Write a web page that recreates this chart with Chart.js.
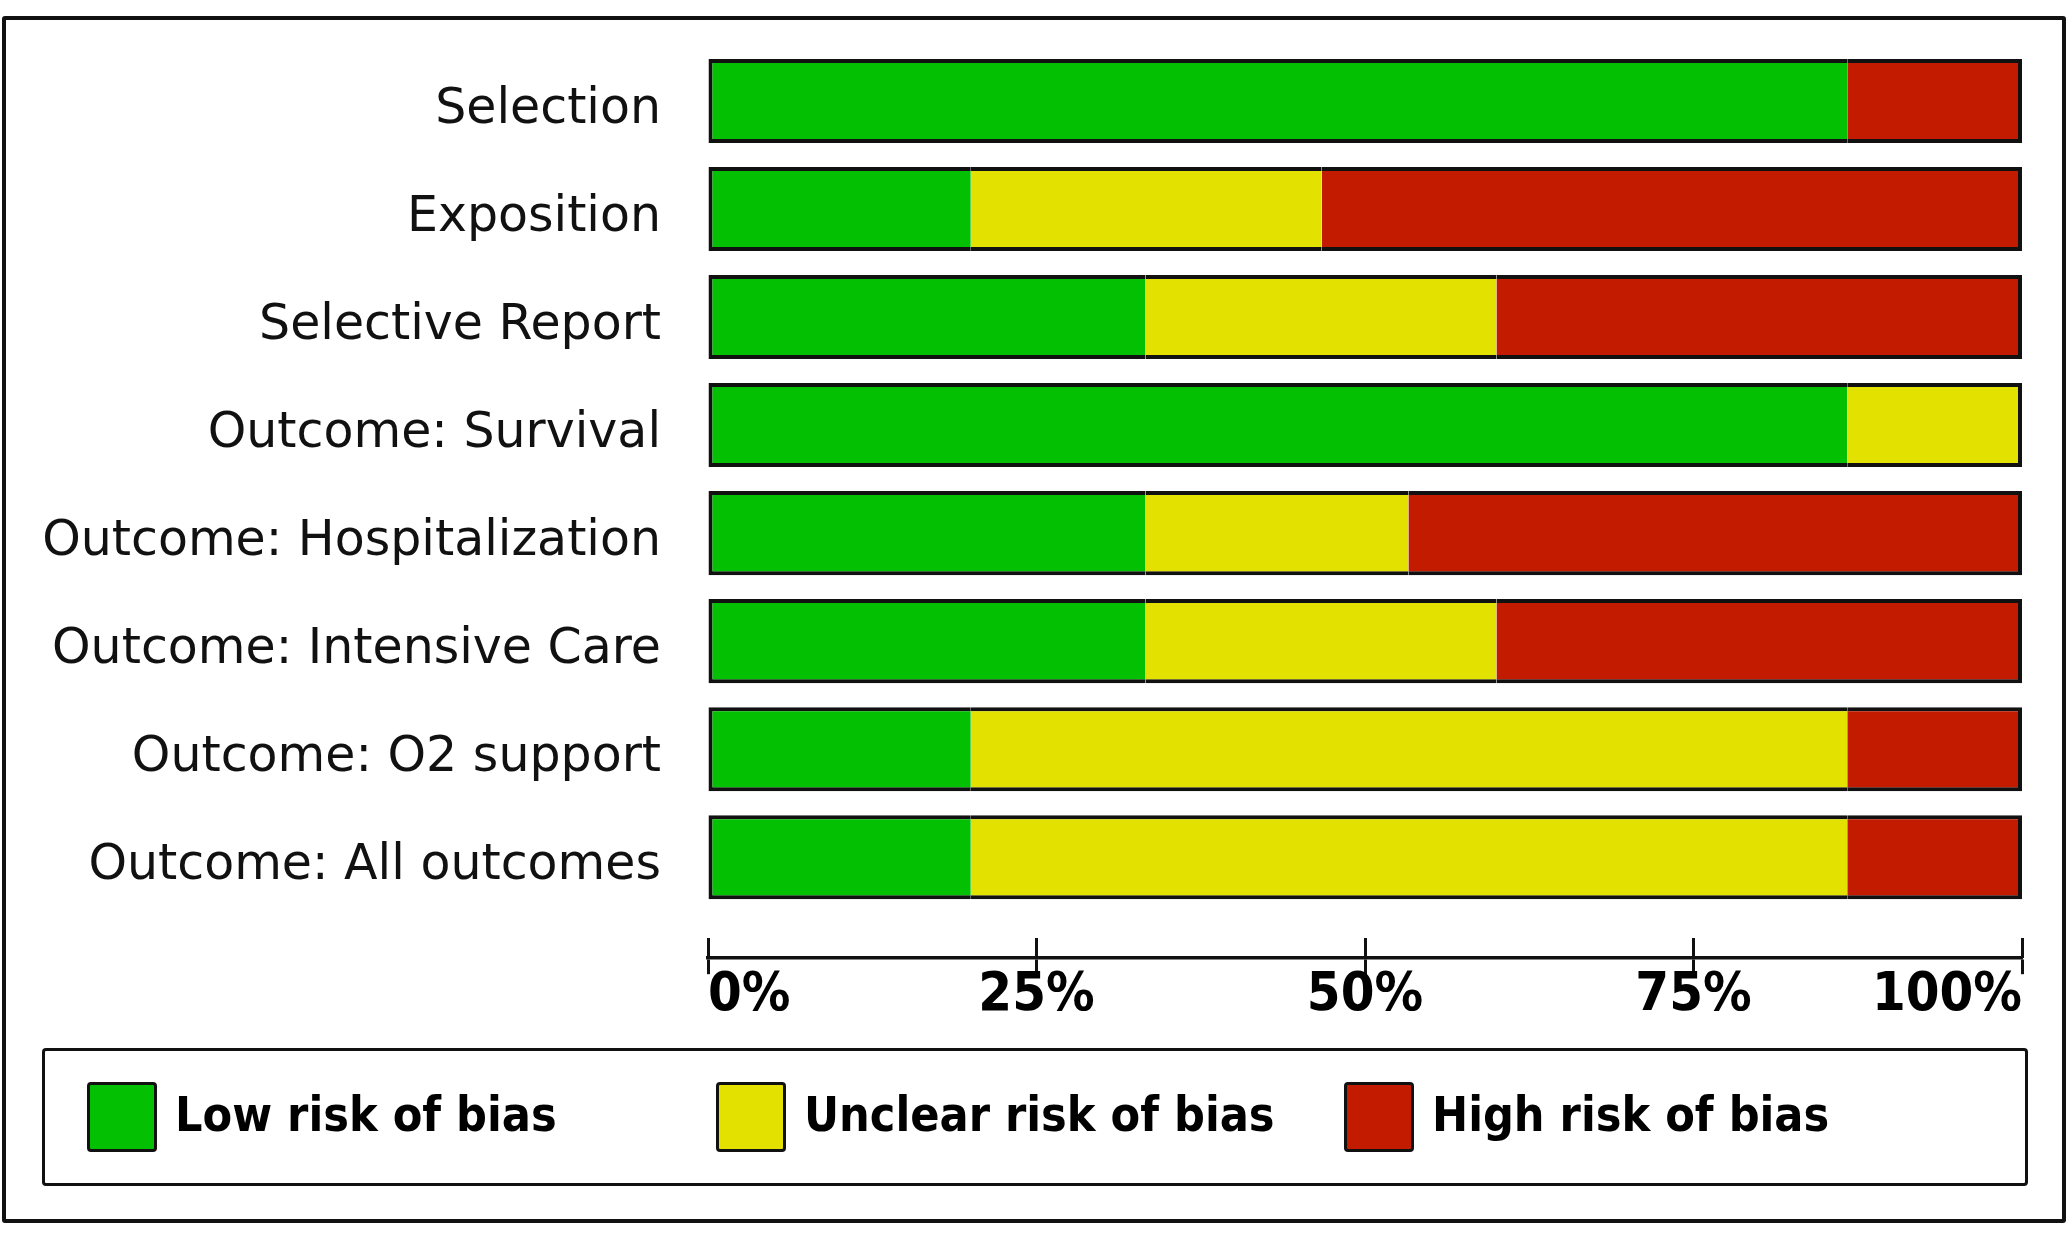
<!DOCTYPE html>
<html>
<head>
<meta charset="utf-8">
<script src="https://cdn.jsdelivr.net/npm/chart.js@4"></script>
<style>
  html, body { margin: 0; padding: 0; background: #fff; }
  #wrap { position: relative; width: 2067px; height: 1250px; overflow: hidden; background: #fff; }
  #c { position: absolute; left: 0; top: 0; }
  #frame { position: absolute; left: 2px; top: 16px; width: 2064px; height: 1207px;
           box-sizing: border-box; border: 4px solid #111; border-radius: 3px; pointer-events: none; }
  #legend { position: absolute; left: 42px; top: 1048px; width: 1986px; height: 138px;
            box-sizing: border-box; border: 3px solid #111; border-radius: 4px; }
  #legend-items { list-style: none; margin: 0; padding: 0 0 0 42px; height: 100%;
                  display: grid; grid-template-columns: 629px 628px 628px; align-items: center; }
  #legend-items li { display: flex; align-items: center; }
  #legend-items .sw { width: 70px; height: 70px; box-sizing: border-box; border: 3px solid #111;
                      border-radius: 4px; margin-right: 18px; flex: none; }
  #legend-items .tx { font-family: "DejaVu Sans Condensed", "DejaVu Sans", sans-serif; font-weight: bold;
                      font-size: 48px; color: #000; white-space: nowrap; line-height: 1; margin-top: -6px; }
</style>
</head>
<body>
<div id="wrap">
  <canvas id="c" width="2067" height="1250"></canvas>
  <div id="legend"><ul id="legend-items"></ul></div>
  <div id="frame"></div>
</div>
<script>
const categories = ['Selection', 'Exposition', 'Selective Report', 'Outcome: Survival',
  'Outcome: Hospitalization', 'Outcome: Intensive Care', 'Outcome: O2 support', 'Outcome: All outcomes'];
const seriesNames = ['Low risk of bias', 'Unclear risk of bias', 'High risk of bias'];
const lowRisk     = [86.7, 20.0, 33.3, 86.7, 33.3, 33.3, 20.0, 20.0];
const unclearRisk = [ 0.0, 26.7, 26.7, 13.3, 20.0, 26.7, 66.7, 66.7];
const highRisk    = [13.3, 53.3, 40.0,  0.0, 46.7, 40.0, 13.3, 13.3];
const tickLabels  = ['0%', '25%', '50%', '75%', '100%'];

const seriesValues = [lowRisk, unclearRisk, highRisk];
const seriesColors = ['#03c003', '#e2e100', '#c21b00'];
const BW = 4;

function segBorder(ctx) {
  if (ctx.dataIndex === undefined) return BW;
  const i = ctx.dataIndex;
  const vals = seriesValues.map(s => s[i]);
  const first = vals.findIndex(v => v > 0);
  const last = vals.length - 1 - [...vals].reverse().findIndex(v => v > 0);
  return { top: BW, bottom: BW, left: ctx.datasetIndex === first ? BW : 0, right: ctx.datasetIndex === last ? BW : 0 };
}

const htmlLegend = {
  id: 'htmlLegend',
  afterUpdate(chart) {
    const ul = document.getElementById('legend-items');
    ul.innerHTML = '';
    const items = chart.options.plugins.legend.labels.generateLabels(chart);
    items.forEach(item => {
      const li = document.createElement('li');
      const sw = document.createElement('span');
      sw.className = 'sw';
      sw.style.background = item.fillStyle;
      const tx = document.createElement('span');
      tx.className = 'tx';
      tx.textContent = item.text;
      li.appendChild(sw); li.appendChild(tx);
      ul.appendChild(li);
    });
  }
};

new Chart(document.getElementById('c'), {
  type: 'bar',
  data: {
    labels: categories,
    datasets: seriesValues.map((vals, k) => ({
      label: seriesNames[k],
      data: vals,
      backgroundColor: seriesColors[k],
      borderColor: '#111',
      borderWidth: segBorder,
      borderSkipped: false,
      xAxisID: 'x',
      barPercentage: 0.778,
      categoryPercentage: 1.0
    }))
  },
  plugins: [htmlLegend],
  options: {
    indexAxis: 'y',
    responsive: false,
    animation: false,
    layout: { padding: { left: 0, right: 45, top: 47, bottom: 233 } },
    plugins: { legend: { display: false }, tooltip: { enabled: false } },
    scales: {
      y: {
        stacked: true,
        grid: { display: false, drawTicks: false },
        border: { display: false },
        ticks: { color: '#111', padding: 47, labelOffset: 9, font: { family: 'DejaVu Sans', size: 49 } },
        afterFit: (scale) => { scale.width = 708; scale.paddingTop = 0; scale.paddingBottom = 0; }
      },
      x: {
        type: 'linear', position: 'bottom', weight: 0, stacked: true, min: 0, max: 100,
        grid: { display: true, drawOnChartArea: false, drawTicks: true, tickLength: 47,
                tickWidth: 3, tickColor: '#111', tickBorderDash: [0, 27, 20, 100] },
        border: { display: false },
        ticks: { display: false, stepSize: 25 }
      },
      x2: {
        type: 'linear', position: 'bottom', weight: 1, min: 0, max: 100,
        grid: { display: true, drawOnChartArea: false, drawTicks: true, tickLength: 16,
                tickWidth: 3, tickColor: '#111' },
        border: { display: true, width: 3.5, color: '#111' },
        ticks: { stepSize: 25, align: 'inner', padding: -11, color: '#000',
                 font: { family: 'DejaVu Sans Condensed, DejaVu Sans', size: 54, weight: 'bold', lineHeight: 1.2 },
                 callback: (v, idx) => tickLabels[idx] }
      }
    }
  }
});
</script>
</body>
</html>
